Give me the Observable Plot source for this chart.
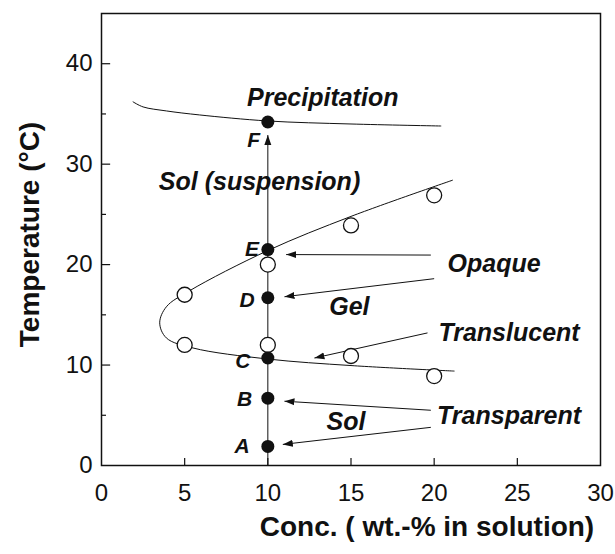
<!DOCTYPE html>
<html>
<head>
<meta charset="utf-8">
<script src="https://cdn.jsdelivr.net/npm/d3@7"></script>
<script src="https://cdn.jsdelivr.net/npm/@observablehq/plot@0.6"></script>
<style>
  html, body { margin: 0; padding: 0; background: #fff; }
  #chart svg { display: block; }
</style>
</head>
<body>
<div id="chart"></div>
<script>
// ---- data ----
const xTicks = [0, 5, 10, 15, 20, 25, 30];
const yTicks = [0, 10, 20, 30, 40];
const yMinorTicks = [5, 15, 25, 35];

// open circles (transition measurements)
const openX = [5, 5, 10, 10, 15, 15, 20, 20];
const openY = [17.0, 12.0, 20.0, 12.0, 23.9, 10.9, 26.9, 8.9];

// filled points along 10 wt.-%
const pointNames = ["A", "B", "C", "D", "E", "F"];
const pointX = [10, 10, 10, 10, 10, 10];
const pointY = [1.9, 6.7, 10.7, 16.7, 21.5, 34.2];
const pointLabelX = [8.45, 8.6, 8.5, 8.75, 9.05, 9.15];
const pointLabelY = [1.9, 6.6, 10.4, 16.5, 21.5, 32.4];

// gel boundary (C-shaped curve)
const boundaryX = [21.1, 15, 10, 5.3, 3.9, 3.5, 3.9, 5.5, 10, 15, 21.2];
const boundaryY = [28.4, 24.8, 21.4, 17.4, 15.8, 14.2, 12.7, 11.7, 10.6, 9.95, 9.4];

// precipitation boundary
const precipX = [1.9, 2.5, 3.9, 5.9, 10, 15, 20.4];
const precipY = [36.2, 35.7, 35.3, 34.9, 34.3, 34.0, 33.8];

// arrows (tail -> head)
const arrowX1 = [10, 19.8, 20.0, 19.6, 19.8, 19.8];
const arrowY1 = [0, 20.95, 18.6, 13.2, 5.5, 3.8];
const arrowX2 = [10, 11.1, 11.0, 12.8, 11.0, 10.9];
const arrowY2 = [32.9, 21.0, 16.8, 10.7, 6.4, 2.1];

// region / state annotations
const annoText = ["Precipitation", "Sol (suspension)", "Opaque", "Gel", "Translucent", "Sol", "Transparent"];
const annoX = [13.3, 9.5, 23.6, 14.9, 24.5, 14.7, 24.5];
const annoY = [36.6, 28.25, 20.05, 15.8, 13.15, 4.3, 4.95];

const xTitle = "Conc. ( wt.-% in solution)";
const yTitle = "Temperature (°C)";

// ---- build tables ----
const openPts = openX.map((x, i) => ({x, y: openY[i]}));
const pts = pointNames.map((n, i) => ({name: n, x: pointX[i], y: pointY[i], lx: pointLabelX[i], ly: pointLabelY[i]}));
const boundary = boundaryX.map((x, i) => ({x, y: boundaryY[i]}));
const precip = precipX.map((x, i) => ({x, y: precipY[i]}));
const arrows = arrowX1.map((x1, i) => ({x1, y1: arrowY1[i], x2: arrowX2[i], y2: arrowY2[i]}));
const annos = annoText.map((t, i) => ({t, x: annoX[i], y: annoY[i]}));

const ink = "#111";
const font = "'Liberation Sans', Arial, Helvetica, sans-serif";

const chart = Plot.plot({
  width: 615,
  height: 554,
  marginLeft: 101,
  marginRight: 15,
  marginTop: 13,
  marginBottom: 89,
  style: {fontFamily: font, color: ink, background: "#fff"},
  x: {domain: [0, 30]},
  y: {domain: [0, 45]},
  marks: [
    Plot.axisX({ticks: xTicks, tickSize: 0, tickPadding: 18, fontSize: 24, label: null, tickFormat: d => String(d)}),
    Plot.axisY({ticks: yTicks, tickSize: 0, tickPadding: 9, fontSize: 24, label: null, tickFormat: d => String(d)}),
    // inward ticks
    Plot.ruleY(yTicks.filter(d => d > 0), {y: d => d, x1: 0, x2: 0.55, stroke: ink, strokeWidth: 1.2}),
    Plot.ruleY(yMinorTicks, {y: d => d, x1: 0, x2: 0.3, stroke: ink, strokeWidth: 1.2}),
    Plot.ruleX(xTicks.filter(d => d > 0 && d < 30), {x: d => d, y1: 0, y2: 0.7, stroke: ink, strokeWidth: 1.2}),
    // curves
    Plot.line(precip, {x: "x", y: "y", curve: "catmull-rom", stroke: ink, strokeWidth: 1}),
    Plot.line(boundary, {x: "x", y: "y", curve: "catmull-rom", stroke: ink, strokeWidth: 1}),
    // arrows
    Plot.link(arrows, {x1: "x1", y1: "y1", x2: "x2", y2: "y2", stroke: ink, strokeWidth: 1, markerEnd: "arrow"}),
    // points
    Plot.dot(openPts, {x: "x", y: "y", r: 7.5, stroke: ink, strokeWidth: 1.3, fill: "#fff"}),
    Plot.dot(pts, {x: "x", y: "y", r: 6.5, fill: ink, stroke: "none"}),
    Plot.text(pts, {x: "lx", y: "ly", text: "name", fontSize: 21, fontWeight: "bold", fontStyle: "italic", fill: ink}),
    // annotations
    Plot.text(annos, {x: "x", y: "y", text: "t", fontSize: 25, fontWeight: "bold", fontStyle: "italic", fill: ink}),
    // axis titles
    Plot.text([xTitle], {frameAnchor: "bottom", lineAnchor: "middle", textAnchor: "middle", dy: 62, dx: 76, fontSize: 28, fontWeight: "bold", fill: ink}),
    Plot.text([yTitle], {frameAnchor: "left", lineAnchor: "middle", textAnchor: "middle", rotate: -90, dx: -71, dy: -5, fontSize: 28, fontWeight: "bold", fill: ink}),
    Plot.frame({stroke: ink, strokeWidth: 1.5})
  ]
});

// filled triangular arrowheads like the reference
chart.querySelectorAll("marker").forEach(m => {
  m.setAttribute("viewBox", "-10 -4 10 8");
  m.setAttribute("markerWidth", "10");
  m.setAttribute("markerHeight", "8");
  m.setAttribute("markerUnits", "userSpaceOnUse");
  m.setAttribute("fill", ink);
  m.setAttribute("stroke", "none");
  const p = m.querySelector("path");
  if (p) p.setAttribute("d", "M-10,-3.5L0,0L-10,3.5Z");
});

document.getElementById("chart").appendChild(chart);
</script>
</body>
</html>
